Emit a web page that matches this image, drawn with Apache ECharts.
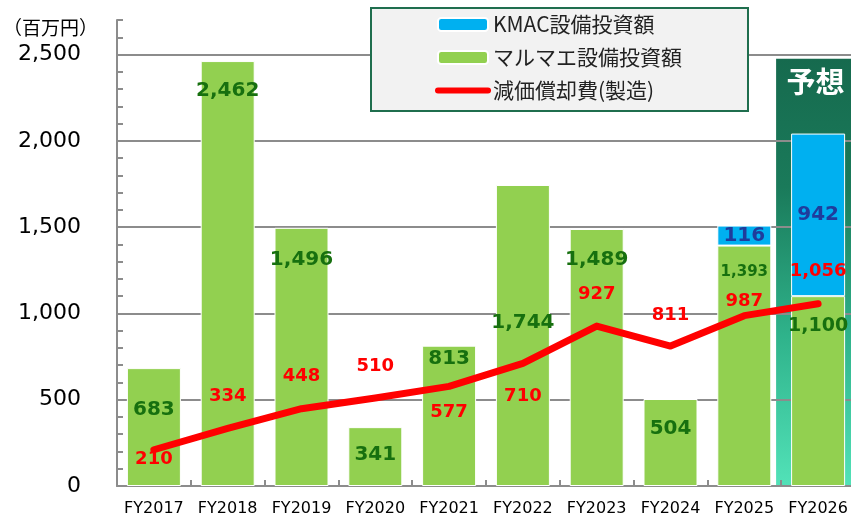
<!DOCTYPE html>
<html lang="ja">
<head>
<meta charset="UTF-8">
<title>設備投資額と減価償却費</title>
<script src="https://cdn.jsdelivr.net/npm/echarts@6/dist/echarts.min.js"></script>
<style>
  html, body { margin: 0; padding: 0; background: #fff; }
  #chart { width: 851px; height: 518px; }
</style>
</head>
<body>
<div id="chart"></div>
<script>
const years = ['FY2017', 'FY2018', 'FY2019', 'FY2020', 'FY2021', 'FY2022', 'FY2023', 'FY2024', 'FY2025', 'FY2026'];
const marumaeCapex = [683, 2462, 1496, 341, 813, 1744, 1489, 504, 1393, 1100];
const kmacCapex = ['-', '-', '-', '-', '-', '-', '-', '-', 116, 942];
const depreciation = [210, 334, 448, 510, 577, 710, 927, 811, 987, 1056];
const yLabelValues = [0, 500, 1000, 1500, 2000, 2500];
// shaded forecast column (FY2026 only)
const forecastBand = ['-', '-', '-', '-', '-', '-', '-', '-', '-', 2475];

// label placement: px below bar top (green), px from line point (red)
const greenLabelDy = [42, 30, 32, 28, 13, 138, 31, 30, 27, 30];
const greenLabelSize = [20, 20, 20, 20, 20, 20, 20, 20, 15, 19];
const redLabelDy = [11, -31, -31, -31, 27, 34, -31, -30, -13, -31];

const numFont = '"DejaVu Sans", Verdana, sans-serif';
const jpFont = '"Noto Sans CJK JP", sans-serif';
const fmt = v => Number(v).toLocaleString('en-US');
const gray = '#8c8c8c';
const none = 'rgba(0,0,0,0)';

const chart = echarts.init(document.getElementById('chart'), null, { renderer: 'canvas' });

chart.setOption({
  animation: false,
  title: {
    text: '（百万円）', left: 3, top: 18, padding: 0,
    textStyle: { fontSize: 19, fontWeight: 'normal', color: '#000', fontFamily: jpFont }
  },
  legend: {
    left: 371, top: 8, orient: 'vertical',
    data: [
      'KMAC設備投資額',
      'マルマエ設備投資額',
      { name: '減価償却費(製造)', itemStyle: { opacity: 0 }, lineStyle: { width: 6, cap: 'round' } }
    ],
    backgroundColor: '#f2f2f2', borderColor: '#1f6e4e', borderWidth: 2, borderRadius: 0,
    padding: [6, 66, 10, 64],
    itemWidth: 50, itemHeight: 13, itemGap: 12,
    selectedMode: false,
    textStyle: { fontSize: 21, lineHeight: 20, color: '#222', fontFamily: jpFont }
  },
  grid: { left: 117, right: -4, top: 20, bottom: 32, containLabel: false, outerBoundsMode: 'none' },
  xAxis: [{
    type: 'category', data: years, z: 1,
    axisLine: { show: true, lineStyle: { color: gray, width: 2 } },
    axisTick: { show: true, inside: true, length: 6, lineStyle: { color: gray, width: 2 } },
    axisLabel: { interval: 0, margin: 15, fontSize: 16, color: '#000', fontFamily: numFont }
  }, {
    type: 'category', data: years, show: false
  }],
  yAxis: {
    type: 'value', min: 0, max: 2700, interval: 100, z: 1,
    axisLine: { show: true, lineStyle: { color: gray, width: 2 } },
    axisTick: { show: true, inside: true, length: 6, lineStyle: { color: gray, width: 2 } },
    axisLabel: {
      margin: 36, fontSize: 22, color: '#000', fontFamily: numFont,
      formatter: v => yLabelValues.includes(v) ? fmt(v) : ''
    },
    splitLine: { show: true, lineStyle: { color: [gray, none, none, none, none], width: 2 } }
  },
  series: [
    {
      name: 'forecast', type: 'bar', xAxisIndex: 1, data: forecastBand,
      barWidth: 84, z: 0, silent: true,
      itemStyle: {
        color: new echarts.graphic.LinearGradient(0, 0, 0, 1, [
          { offset: 0, color: '#166a4e' },
          { offset: 0.3, color: '#1a7a5a' },
          { offset: 0.65, color: '#2fb38b' },
          { offset: 1, color: '#52e2b8' }
        ])
      },
      label: {
        show: true, position: 'insideTop', distance: 9, formatter: '予想',
        color: '#fff', fontSize: 29, fontWeight: 'bold', fontFamily: jpFont
      }
    },
    {
      name: 'マルマエ設備投資額', type: 'bar', stack: 'capex', barWidth: 54, z: 2,
      data: marumaeCapex.map((v, i) => ({
        value: v,
        label: { position: ['50%', greenLabelDy[i]], fontSize: greenLabelSize[i] }
      })),
      itemStyle: { color: '#92D050', borderColor: '#fff', borderWidth: 1 },
      label: {
        show: true, align: 'center', verticalAlign: 'middle',
        color: '#17700f', fontWeight: 'bold', fontFamily: numFont,
        formatter: p => fmt(p.value)
      }
    },
    {
      name: 'KMAC設備投資額', type: 'bar', stack: 'capex', barWidth: 54, z: 2,
      data: kmacCapex,
      itemStyle: { color: '#00B0F0', borderColor: '#fff', borderWidth: 1 },
      label: {
        show: true, position: 'inside', color: '#1f3c9c',
        fontWeight: 'bold', fontSize: 20, fontFamily: numFont
      }
    },
    {
      name: '減価償却費(製造)', type: 'line', z: 3,
      data: depreciation.map((v, i) => ({
        value: v,
        label: { position: ['50%', redLabelDy[i]] }
      })),
      symbol: 'circle', symbolSize: 2,
      itemStyle: { color: '#FF0000' },
      lineStyle: { color: '#FF0000', width: 7, cap: 'round', join: 'round' },
      label: {
        show: true, align: 'center', verticalAlign: 'middle',
        color: '#FF0000', fontWeight: 'bold', fontSize: 18, fontFamily: numFont,
        formatter: p => fmt(p.value)
      }
    }
  ]
});
</script>
</body>
</html>
